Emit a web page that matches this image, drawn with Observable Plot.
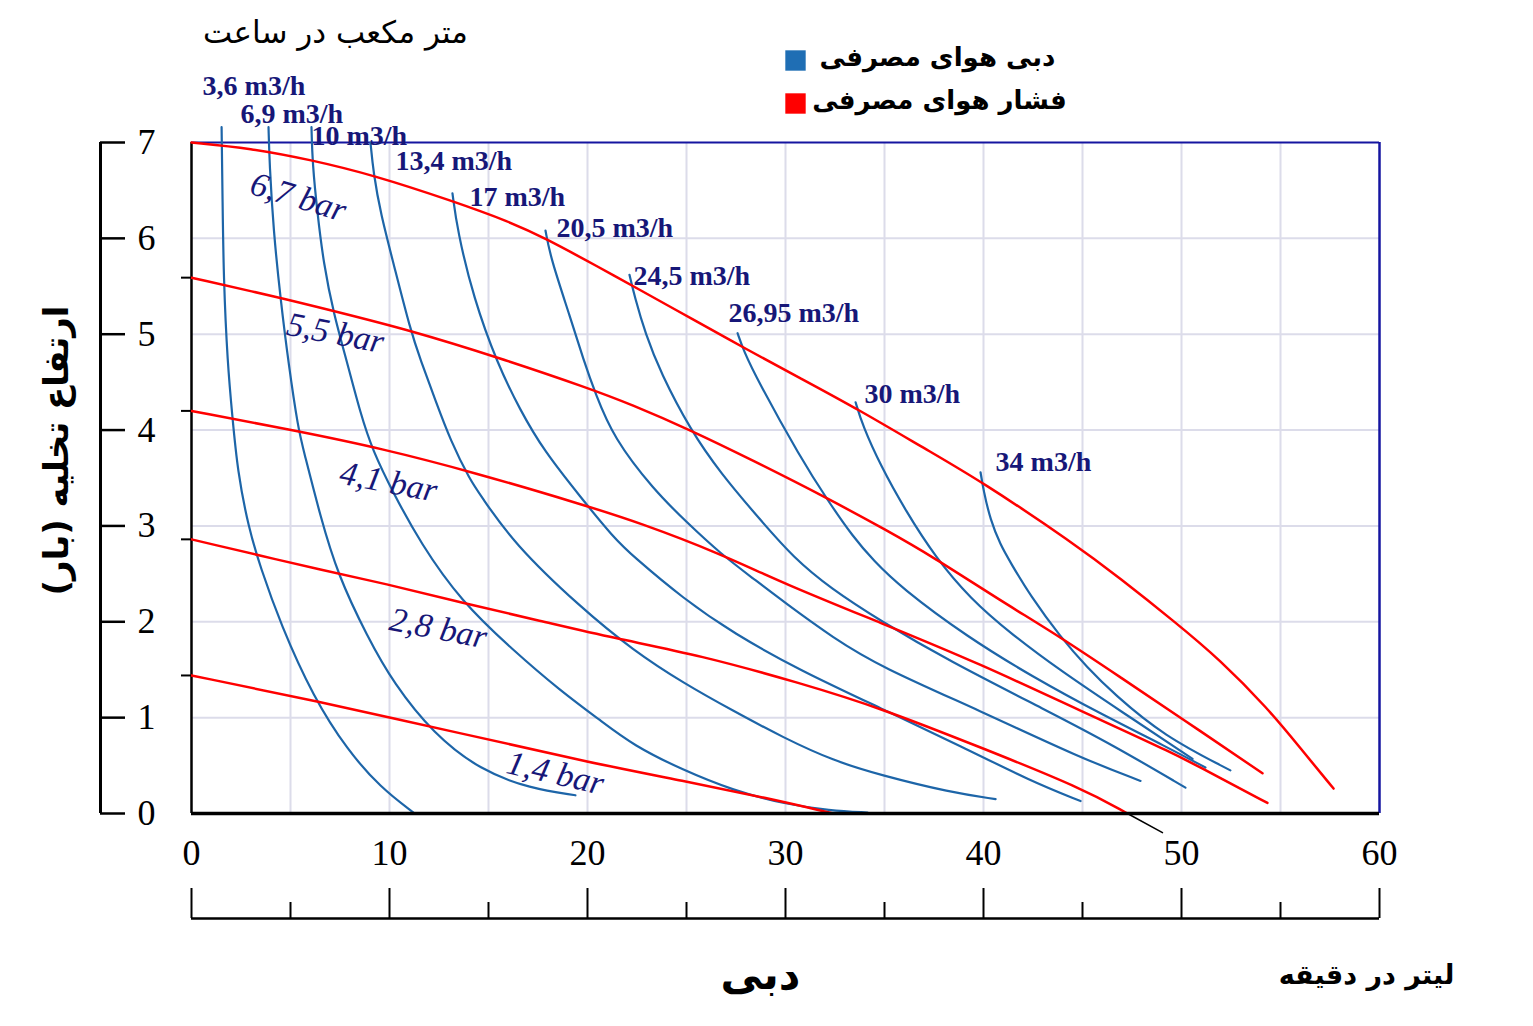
<!DOCTYPE html>
<html><head><meta charset="utf-8">
<script src="https://cdn.jsdelivr.net/npm/d3@7"></script>
<script src="https://cdn.jsdelivr.net/npm/@observablehq/plot@0.6"></script>
<style>body{margin:0;background:#fff}</style>
</head><body><div id="chart"></div>
<script>
// Air consumption (blue) curves, labelled in m3/h
const flowRates = ["3,6", "6,9", "10", "13,4", "17", "20,5", "24,5", "26,95", "30", "34"];
const flowCurves = [
 [[1.52,7.16],[1.57,6.39],[1.62,5.59],[1.82,4.69],[2.07,4.13],[2.32,3.58],[2.88,2.98],[3.48,2.57],[4.49,1.98],[6.16,1.21],[7.88,0.66],[9.55,0.27],[11.21,0.01]],
 [[3.89,7.16],[3.94,6.78],[4.14,6.08],[4.49,5.38],[4.90,4.69],[5.40,4.00],[5.66,3.79],[6.52,3.09],[7.37,2.50],[8.89,1.84],[10.20,1.36],[12.22,0.83],[14.60,0.45],[17.12,0.26],[19.39,0.19]],
 [[6.06,7.16],[6.11,6.78],[6.36,6.26],[6.67,5.74],[7.17,5.22],[7.88,4.69],[8.54,4.17],[9.14,3.79],[10.20,3.34],[11.57,2.82],[13.59,2.22],[16.26,1.70],[18.64,1.28],[20.66,0.97],[22.32,0.71],[24.85,0.45],[27.37,0.24],[29.90,0.10],[32.27,0.03],[34.14,0.01]],
 [[9.04,7.00],[9.19,6.68],[9.55,6.26],[10.20,5.74],[11.06,5.04],[11.57,4.73],[12.32,4.31],[13.08,3.89],[14.09,3.47],[14.60,3.32],[16.26,2.82],[19.65,2.15],[22.32,1.70],[24.85,1.36],[27.37,1.07],[29.90,0.79],[32.42,0.55],[34.80,0.40],[38.33,0.22],[40.61,0.15]],
 [[13.18,6.47],[13.43,6.08],[14.24,5.38],[15.45,4.69],[16.62,4.20],[17.78,3.79],[19.65,3.30],[21.31,2.88],[22.32,2.68],[24.85,2.24],[27.37,1.88],[30.76,1.49],[34.80,1.10],[38.99,0.69],[42.37,0.34],[44.90,0.13]],
 [[17.88,6.08],[18.13,5.80],[19.14,5.17],[19.80,4.73],[20.40,4.38],[21.31,3.92],[23.33,3.38],[25.05,3.03],[26.72,2.71],[28.38,2.45],[29.90,2.21],[32.42,1.83],[34.80,1.53],[39.85,1.07],[44.90,0.58],[47.93,0.34]],
 [[22.12,5.62],[22.37,5.40],[22.93,5.00],[23.69,4.60],[25.20,4.00],[26.72,3.55],[28.74,3.06],[30.40,2.67],[32.27,2.35],[34.80,2.01],[38.18,1.60],[43.23,1.07],[46.57,0.71],[50.20,0.27]],
 [[27.58,5.01],[27.88,4.83],[28.59,4.52],[30.76,3.71],[32.12,3.27],[33.43,2.88],[34.44,2.64],[35.81,2.36],[39.19,1.84],[42.53,1.42],[45.91,1.04],[49.29,0.69],[51.21,0.48]],
 [[33.54,4.29],[33.89,4.05],[34.80,3.63],[36.06,3.16],[37.58,2.67],[39.34,2.24],[41.36,1.88],[43.89,1.49],[46.92,1.07],[50.56,0.57]],
 [[39.85,3.56],[40.00,3.37],[40.35,3.06],[40.86,2.80],[41.36,2.62],[42.37,2.27],[43.89,1.84],[45.25,1.52],[46.57,1.25],[49.09,0.81],[52.47,0.45]]
];
// Air pressure (red) curves, labelled in bar
const pressures = ["6,7", "5,5", "4,1", "2,8", "1,4"];
const pressureCurves = [
 [[0,7.00],[2.98,6.94],[6.01,6.82],[9.19,6.66],[13.18,6.39],[16.11,6.17],[17.78,6.01],[20.66,5.69],[22.32,5.50],[25.71,5.11],[27.88,4.86],[30.76,4.54],[33.64,4.22],[37.17,3.79],[39.85,3.47],[44.55,2.82],[46.92,2.45],[49.60,2.01],[51.97,1.60],[54.34,1.10],[56.01,0.68],[57.68,0.26]],
 [[0,5.59],[4.49,5.38],[7.02,5.25],[11.06,5.04],[15.45,4.76],[20.15,4.43],[22.17,4.27],[25.20,4.00],[28.38,3.68],[32.02,3.30],[35.15,2.95],[37.42,2.68],[40.86,2.22],[43.89,1.84],[46.92,1.42],[49.95,1.00],[54.09,0.42]],
 [[0,4.20],[5.35,3.99],[9.55,3.81],[14.24,3.56],[19.80,3.22],[22.68,3.03],[26.72,2.71],[29.90,2.40],[34.80,1.99],[39.85,1.56],[44.90,1.07],[49.60,0.63],[51.97,0.37],[54.34,0.11]],
 [[0,2.86],[7.37,2.50],[9.55,2.41],[13.59,2.20],[17.63,2.01],[21.31,1.83],[25.71,1.65],[30.76,1.36],[34.80,1.10],[39.85,0.69],[44.90,0.27],[47.27,0]],
 [[0,1.44],[6.16,1.18],[13.74,0.83],[20.15,0.53],[24.85,0.34],[29.09,0.16],[32.42,0]]
];
const leader = [[47.27,0],[49.04,-0.20]];
// label anchors (data units)
const flowLabelAt = [[0.56,7.59],[2.47,7.30],[6.06,7.07],[10.30,6.81],[14.04,6.43],[18.43,6.11],[22.32,5.61],[27.12,5.22],[33.99,4.38],[40.61,3.67]];
const pressureLabelAt = [[5.40,6.43],[7.27,5.01],[9.95,3.46],[12.47,1.93],[18.38,0.42]];
const pressureLabelAngle = [17, 11, 11, 11, 13];
// ticks
const xLabelTicks = [0,10,20,30,40,50,60];
const xMinorTicks = [5,15,25,35,45,55];
const xGrid = [5,10,15,20,25,30,35,40,45,50,55];
const yTicks = [0,1,2,3,4,5,6,7];
const yGrid = [1,2,3,4,5,6];
// texts
const titleText = "متر مکعب در ساعت";
const legendItems = ["دبی هوای مصرفی", "فشار هوای مصرفی"];
const yTitle = "ارتفاع تخلیه (بار)\u200F";
const xTitle = "دبی";
const xUnit = "لیتر در دقیقه";

const flowData = flowCurves.flatMap((pts, i) => pts.map(([x, y]) => ({series: flowRates[i], x, y})));
const pressureData = pressureCurves.flatMap((pts, i) => pts.map(([x, y]) => ({series: pressures[i], x, y})));
const flowLabels = flowLabelAt.map(([x, y], i) => ({x, y, text: flowRates[i] + " m3/h"}));
const pressureLabels = pressureLabelAt.map(([x, y], i) => ({x, y, a: pressureLabelAngle[i], text: pressures[i] + " bar"}));
const starts = pressureCurves.slice(1).map(c => c[0][1]);

const BLUE = "#1d65a8", RED = "#ff0000", NAVY = "#171778", FRAME = "#1515a0", GRID = "#dcdcea";
const fa = "DejaVu Sans", serif = "Liberation Serif";
const T = (s, dx, dy, o = {}) => Plot.text([s], {text: d => d, frameAnchor: "top-left", textAnchor: "middle", lineAnchor: "middle", dx, dy, fontFamily: fa, fill: "black", ...o});

const chart = Plot.plot({
  width: 1533, height: 1026,
  marginLeft: 191, marginRight: 154, marginTop: 142, marginBottom: 213,
  x: {domain: [0, 60]}, y: {domain: [0, 7]},
  style: {fontFamily: serif, color: "black", background: "white"},
  marks: [
    Plot.gridX(xGrid, {stroke: GRID, strokeOpacity: 1, strokeWidth: 2}),
    Plot.gridY(yGrid, {stroke: GRID, strokeOpacity: 1, strokeWidth: 2}),
    Plot.ruleY([7], {stroke: FRAME, strokeWidth: 2}),
    Plot.ruleX([60], {stroke: FRAME, strokeWidth: 2.5}),
    Plot.ruleX([0], {stroke: "black", strokeWidth: 2.5}),
    Plot.line(flowData, {x: "x", y: "y", z: "series", stroke: BLUE, strokeWidth: 2.2, curve: "basis"}),
    Plot.line(pressureData, {x: "x", y: "y", z: "series", stroke: RED, strokeWidth: 2.5, curve: "basis"}),
    Plot.line(leader, {x: d => d[0], y: d => d[1], stroke: "black", strokeWidth: 1.5}),
    Plot.ruleY(starts, {y: d => d, x1: 0, x2: 0, insetLeft: -10, stroke: "black", strokeWidth: 2}),
    Plot.ruleY([0], {stroke: "black", strokeWidth: 3.5}),
    Plot.text(flowLabels, {x: "x", y: "y", text: "text", textAnchor: "start", fontFamily: serif, fontWeight: "bold", fontSize: 28, fill: NAVY}),
    Plot.text(pressureLabels, {x: "x", y: "y", text: "text", rotate: "a", fontFamily: serif, fontStyle: "italic", fontSize: 34, fill: NAVY}),
    // inner x tick labels
    Plot.axisX(xLabelTicks, {anchor: "bottom", tickSize: 0, tickPadding: 26, fontSize: 36, fontFamily: serif, label: null}),
    // outer bottom scale
    Plot.ruleY([0], {dy: 105, stroke: "black", strokeWidth: 2.5}),
    Plot.axisX(xLabelTicks, {anchor: "bottom", tickSize: -30, dy: 105, fill: "none", strokeWidth: 2, label: null}),
    Plot.axisX(xMinorTicks, {anchor: "bottom", tickSize: -16, dy: 105, fill: "none", strokeWidth: 2, label: null}),
    // outer left scale
    Plot.ruleX([0], {dx: -91, stroke: "black", strokeWidth: 3}),
    Plot.axisY(yTicks, {anchor: "left", tickSize: -25, dx: -91, tickPadding: -12, textAnchor: "start", tickFormat: d => String(d), fontSize: 36, fontFamily: serif, strokeWidth: 2.5, label: null}),
    // texts
    T(titleText, 144, -109, {fontSize: 31}),
    Plot.dot([0], {frameAnchor: "top-left", dx: 604, dy: -82, symbol: "square", r: 11.5, fill: "#1f6eb4"}),
    Plot.dot([0], {frameAnchor: "top-left", dx: 604, dy: -39, symbol: "square", r: 11.5, fill: RED}),
    T(legendItems[0], 746, -85, {fontSize: 26, fontWeight: "bold"}),
    T(legendItems[1], 748, -42, {fontSize: 26, fontWeight: "bold"}),
    T(yTitle, -134, 308, {fontSize: 34, fontWeight: "bold", rotate: -90}),
    T(xTitle, 569, 833, {fontSize: 42, fontWeight: "bold"}),
    T(xUnit, 1175, 833, {fontSize: 27, fontWeight: "bold"})
  ]
});
document.getElementById("chart").append(chart);
</script></body></html>
